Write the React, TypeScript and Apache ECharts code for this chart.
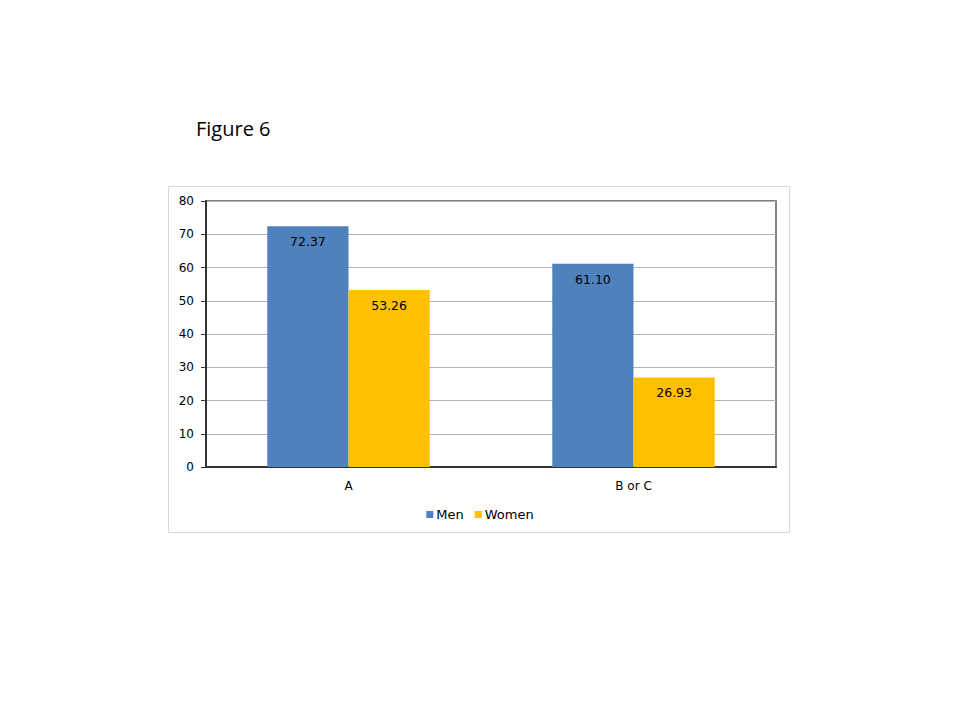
import React, { useEffect, useRef } from "react";
import * as echarts from "echarts";

const categories = ["A", "B or C"];
const menValues = [72.37, 61.1];
const womenValues = [53.26, 26.93];
const seriesNames = ["Men", "Women"];
const yTicks = { min: 0, max: 80, interval: 10 };
const titleText = "Figure 6";

export default function App() {
  const ref = useRef<HTMLDivElement>(null);
  useEffect(() => {
    if (!ref.current) return;
    const chart = echarts.init(ref.current, null, { renderer: "svg" });
    const font = "DejaVu Sans, Verdana, sans-serif";
    const label = {
      show: true,
      position: "insideTop",
      distance: 9,
      color: "#000",
      fontFamily: font,
      fontSize: 12.5,
      formatter: (p: any) => Number(p.value).toFixed(2),
    };
    chart.setOption({
      animation: false,
      backgroundColor: "#fff",
      title: {
        text: titleText,
        left: 191,
        top: 113,
        textStyle: {
          fontFamily: "Open Sans, Noto Sans, sans-serif",
          fontWeight: "normal",
          fontSize: 20,
          color: "#000",
        },
      },
      graphic: [
        {
          type: "rect",
          shape: { x: 168.5, y: 186.5, width: 621, height: 346 },
          style: { fill: "none", stroke: "#d9d9d9", lineWidth: 1 },
          z: -10,
        },
      ],
      grid: {
        left: 206,
        right: 184,
        top: 201,
        bottom: 253,
        show: true,
        borderColor: "#595959",
        borderWidth: 1.5,
      },
      legend: {
        data: seriesNames,
        left: "center",
        top: 503,
        itemWidth: 7,
        itemHeight: 7,
        itemGap: 11,
        icon: "rect",
        textStyle: { fontFamily: font, fontSize: 13, color: "#000", padding: [0, 0, 0, -2] },
      },
      xAxis: {
        type: "category",
        data: categories,
        axisLine: { show: true, lineStyle: { color: "#333", width: 2 } },
        axisTick: { show: false },
        axisLabel: { color: "#000", fontFamily: font, fontSize: 12, margin: 13 },
      },
      yAxis: {
        type: "value",
        min: yTicks.min,
        max: yTicks.max,
        interval: yTicks.interval,
        axisLine: { show: true, lineStyle: { color: "#333", width: 2 } },
        axisTick: { show: true, length: 5, inside: false, lineStyle: { color: "#333" } },
        axisLabel: { color: "#000", fontFamily: font, fontSize: 12, margin: 12 },
        splitLine: { show: true, lineStyle: { color: "#b3b3b3", width: 1 } },
      },
      series: [
        {
          name: seriesNames[0],
          type: "bar",
          data: menValues,
          barGap: "0%",
          barCategoryGap: "43%",
          itemStyle: { color: "#4F81BD" },
          label,
        },
        {
          name: seriesNames[1],
          type: "bar",
          data: womenValues,
          barGap: "0%",
          barCategoryGap: "43%",
          itemStyle: { color: "#FFC000" },
          label,
        },
      ],
    });
    return () => chart.dispose();
  }, []);
  return (
    <div
      ref={ref}
      style={{ position: "fixed", left: 0, top: 0, width: 960, height: 720 }}
    />
  );
}
